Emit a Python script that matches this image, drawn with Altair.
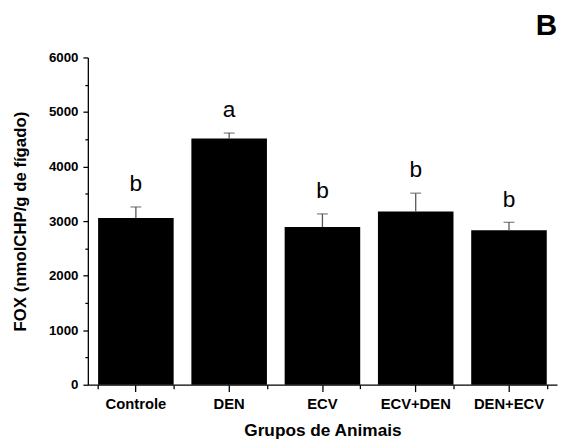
import altair as alt
import pandas as pd

groups = ["Controle", "DEN", "ECV", "ECV+DEN", "DEN+ECV"]
means = [3055, 4513, 2892, 3175, 2832]
err_hi = [3259, 4614, 3132, 3512, 2977]
letters = ["b", "a", "b", "b", "b"]
y_ticks = [0, 1000, 2000, 3000, 4000, 5000, 6000]
y_minor = [500, 1500, 2500, 3500, 4500, 5500]

df = pd.DataFrame({"grupo": groups, "fox": means, "hi": err_hi, "letra": letters})

FONT = "Liberation Sans"

xscale = alt.Scale(domain=groups, paddingInner=0.19, paddingOuter=0.11)
yscale = alt.Scale(domain=[0, 6000], nice=False)

x_main = alt.X("grupo:N", scale=xscale, sort=groups, title="Grupos de Animais",
               axis=alt.Axis(orient="bottom", labelAngle=0, labelFont=FONT, labelFontSize=15,
                             labelFontWeight="bold", labelColor="black", labelPadding=5,
                             titleFont=FONT, titleFontSize=17.5, titleFontWeight="bold",
                             titleColor="black", titlePadding=11, tickSize=7, tickColor="black",
                             tickWidth=1.3, domainColor="black", domainWidth=1.3))
y_main = alt.Y("fox:Q", scale=yscale, title="FOX (nmolCHP/g de fígado)",
               axis=alt.Axis(values=y_ticks, format="d", labelFont=FONT, labelFontSize=13.5,
                             labelFontWeight="bold", labelColor="black", labelPadding=5,
                             titleFont=FONT, titleFontSize=17, titleFontWeight="bold",
                             titleColor="black", titlePadding=19, tickSize=5, tickColor="black",
                             tickWidth=1.3, domainColor="black", domainWidth=1.3, grid=False))

bars = alt.Chart(df).mark_bar(color="black").encode(x=x_main, y=y_main)

# minor ticks on both axes
minor = alt.Chart(df).mark_bar(opacity=0).encode(
    x=alt.X("grupo:N", scale=xscale, sort=groups, title=None,
            axis=alt.Axis(orient="bottom", tickBand="extent", labels=False, domain=False,
                          tickSize=4, tickColor="black", tickWidth=1.3, title=None)),
    y=alt.Y("fox:Q", scale=yscale, title=None,
            axis=alt.Axis(orient="left", values=y_minor, labels=False, domain=False,
                          tickSize=3, tickColor="black", tickWidth=1.3, grid=False, title=None)),
)

whisker = alt.Chart(df).mark_rule(color="#555555", strokeWidth=1.3).encode(
    x=alt.X("grupo:N", scale=xscale, sort=groups, axis=None),
    y=alt.Y("fox:Q", scale=yscale, axis=None),
    y2="hi:Q",
)
caps = alt.Chart(df).mark_tick(color="#555555", thickness=1.3, size=11, orient="horizontal").encode(
    x=alt.X("grupo:N", scale=xscale, sort=groups, axis=None),
    y=alt.Y("hi:Q", scale=yscale, axis=None),
)
labels = alt.Chart(df).mark_text(font=FONT, fontSize=23, color="black", baseline="alphabetic",
                                 dy=-16).encode(
    x=alt.X("grupo:N", scale=xscale, sort=groups, axis=None),
    y=alt.Y("hi:Q", scale=yscale, axis=None),
    text="letra:N",
)

chart = alt.layer(bars, minor, whisker, caps, labels).resolve_axis(
    x="independent", y="independent"
).properties(
    width=476, height=332,
    autosize=alt.AutoSizeParams(type="none"),
    padding={"left": 81, "top": 47, "right": 2, "bottom": 61},
    title=alt.TitleParams("B", anchor="end", font=FONT, fontSize=30, fontWeight="bold",
                          color="black", offset=10),
).configure_view(stroke=None)

chart.save("out.html", embed_options={"renderer": "svg", "actions": False})
